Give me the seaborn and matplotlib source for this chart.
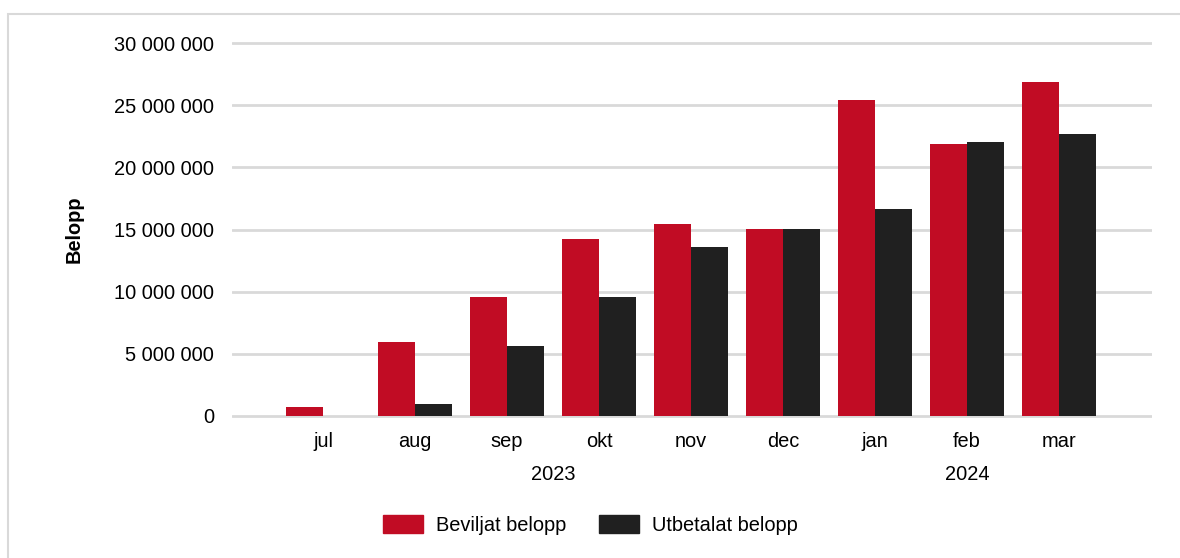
import pandas as pd
import matplotlib
matplotlib.use("Agg")
import matplotlib.pyplot as plt
import matplotlib.patches as mpatches
import matplotlib.transforms as mtransforms
import seaborn as sns

months = ["jul", "aug", "sep", "okt", "nov", "dec", "jan", "feb", "mar"]
years = ["2023", "2024"]
year_months = [["jul", "aug", "sep", "okt", "nov", "dec"], ["jan", "feb", "mar"]]
beviljat = [720000, 5950000, 9570000, 14240000, 15410000, 15040000, 25420000, 21880000, 26870000]
utbetalat = [0, 930000, 5630000, 9570000, 13560000, 15040000, 16650000, 22040000, 22650000]
series = ["Beviljat belopp", "Utbetalat belopp"]
yticks = [0, 5000000, 10000000, 15000000, 20000000, 25000000, 30000000]

red = "#C10C24"
black = "#202020"
grid_col = "#d9d9d9"

df = pd.DataFrame({
    "month": months * 2,
    "value": beviljat + utbetalat,
    "serie": [series[0]] * len(months) + [series[1]] * len(months),
})

sns.set_style("white", {"text.color": "black", "axes.labelcolor": "black",
                        "xtick.color": "black", "ytick.color": "black"})
plt.rcParams["font.family"] = ["Liberation Sans", "DejaVu Sans"]
fs = 14.4

fig = plt.figure(figsize=(11.8, 5.58), dpi=100)
ax = fig.add_axes([0.1966, 0.2478, 0.7797, 0.6818])

sns.barplot(data=df, x="month", y="value", hue="serie", order=months,
            palette=[red, black], width=0.8, saturation=1, ax=ax,
            linewidth=0, legend=False)

ax.set_ylim(-0.3e6, 30.3e6)
ax.set_xlim(-0.99, 9.01)
ax.set_yticks(yticks)
ax.set_yticklabels([f"{v:,}".replace(",", " ") for v in yticks])
ax.yaxis.grid(True, color=grid_col, linewidth=2)
ax.set_axisbelow(True)
for s in ax.spines.values():
    s.set_visible(False)
ax.tick_params(axis="y", length=0, pad=13, labelsize=fs, labelcolor="black")
ax.tick_params(axis="x", length=0, pad=9, labelsize=fs, labelcolor="black")
ax.set_xlabel("")
ax.set_ylabel("Belopp", fontsize=fs, fontweight="bold", color="black")
ax.yaxis.set_label_coords(-0.161, 0.5)

# year labels under the months
trans = mtransforms.blended_transform_factory(ax.transData, ax.transAxes)
for yr, ms in zip(years, year_months):
    pos = [months.index(m) for m in ms]
    ax.text((pos[0] + pos[-1]) / 2, -0.143, yr, transform=trans,
            ha="center", va="center", fontsize=fs, color="black")

handles = [mpatches.Patch(color=red), mpatches.Patch(color=black)]
leg = fig.legend(handles, series, loc="center", bbox_to_anchor=(0.5, 0.059),
                 ncol=2, frameon=False, fontsize=fs, handlelength=2.0,
                 handleheight=1.0, handletextpad=0.65, columnspacing=1.65)
for t in leg.get_texts():
    t.set_color("black")

# light frame around the chart
fig.patches.append(mpatches.Rectangle((8 / 1180, -0.05), 1.05, 1 - 14 / 558 + 0.05,
                                      transform=fig.transFigure, fill=False,
                                      edgecolor=grid_col, linewidth=1.5))

fig.savefig("out.png", dpi=100)
